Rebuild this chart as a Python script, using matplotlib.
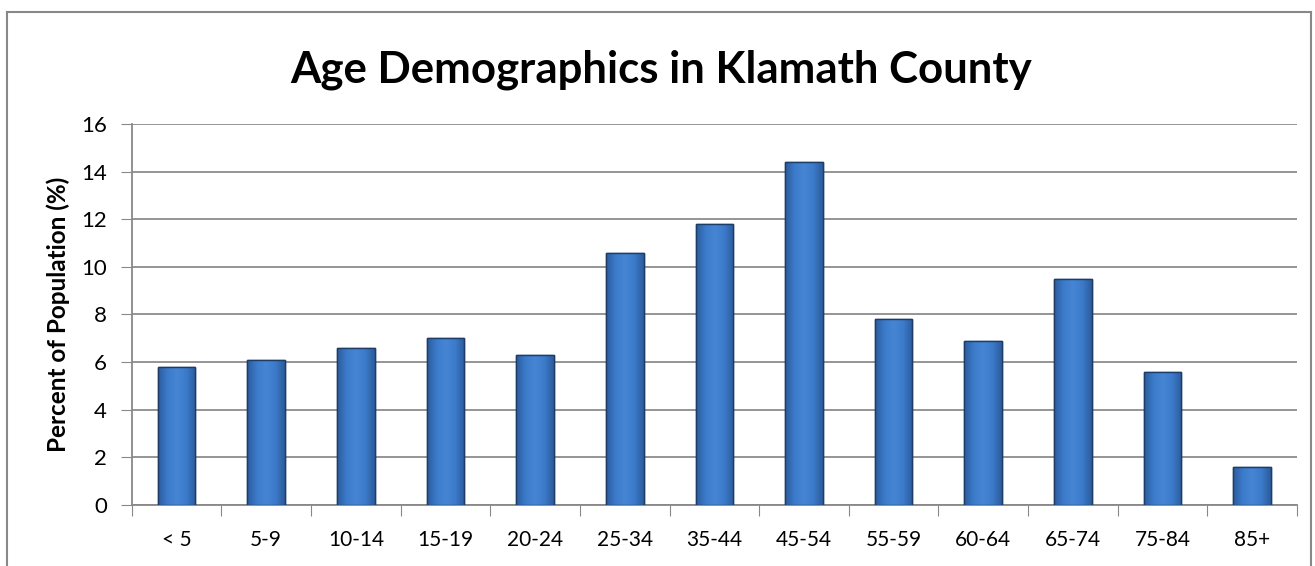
import numpy as np
import matplotlib.pyplot as plt
from matplotlib.colors import LinearSegmentedColormap

# age groups and share of population (%)
ages = ['< 5', '5-9', '10-14', '15-19', '20-24', '25-34', '35-44',
        '45-54', '55-59', '60-64', '65-74', '75-84', '85+']
percent = [5.8, 6.1, 6.6, 7.0, 6.3, 10.6, 11.8, 14.4, 7.8, 6.9, 9.5, 5.6, 1.6]

plt.rcParams['font.family'] = ['Lato', 'DejaVu Sans']

fig = plt.figure(figsize=(13.15, 5.66), dpi=100)
ax = fig.add_axes([0.1002, 0.1078, 0.8861, 0.6732])

x = np.arange(len(ages))
bars = ax.bar(x, percent, width=0.42, color='#3D7BC9', edgecolor='#1E3C68',
              linewidth=1.0, zorder=3)

# horizontal shading on each bar, clipped to the bar shape
shade = LinearSegmentedColormap.from_list(
    'shade', ['#2C5C9C', '#3C7BCB', '#4585D4', '#3C7BCB', '#2C5C9C'])
grad = np.linspace(0, 1, 64).reshape(1, -1)
for b in bars:
    x0, y0 = b.get_x(), b.get_y()
    w, h = b.get_width(), b.get_height()
    im = ax.imshow(grad, cmap=shade, aspect='auto', zorder=3.5,
                   extent=[x0, x0 + w, y0, y0 + h], interpolation='bicubic')
    im.set_clip_path(b)
    ax.bar(x0 + w / 2, h, width=w, bottom=y0, facecolor='none',
           edgecolor='#1E3C68', linewidth=1.0, zorder=4)

ax.set_xlim(-0.5, len(ages) - 0.5)
ax.set_ylim(0, 16)
ax.set_yticks(np.arange(0, 17, 2))
ax.set_xticks(np.arange(-0.5, len(ages), 1.0), minor=False)
ax.set_xticklabels([])
ax.set_xticks(x, minor=True)
ax.set_xticklabels(ages, minor=True)
ax.tick_params(axis='x', which='minor', length=0, pad=18, labelsize=15)
ax.tick_params(axis='x', which='major', length=8, color='#888888', direction='out')
ax.tick_params(axis='y', length=8, color='#888888', labelsize=16, pad=10)

ax.yaxis.grid(True, color='#8C8C8C', linewidth=1.3, zorder=0)
ax.set_axisbelow(True)
for s in ['top', 'right']:
    ax.spines[s].set_visible(False)
ax.spines['left'].set_color('#888888')
ax.spines['bottom'].set_color('#888888')
ax.spines['left'].set_linewidth(1.3)
ax.spines['bottom'].set_linewidth(1.3)

ax.set_ylabel('Percent of Population (%)', fontsize=17.5, fontweight='bold', labelpad=8)
fig.text(0.503, 0.877, 'Age Demographics in Klamath County', ha='center',
         va='center', fontsize=31.5, fontweight='bold')

# chart frame
fig.add_artist(plt.Line2D([7 / 1315, 7 / 1315], [0, 1 - 12 / 566],
                          color='#888888', linewidth=1.5))
fig.add_artist(plt.Line2D([7 / 1315, 1311 / 1315], [1 - 12 / 566, 1 - 12 / 566],
                          color='#888888', linewidth=1.5))
fig.add_artist(plt.Line2D([1311 / 1315, 1311 / 1315], [0, 1 - 12 / 566],
                          color='#888888', linewidth=1.5))

plt.savefig('out.png', dpi=100)
